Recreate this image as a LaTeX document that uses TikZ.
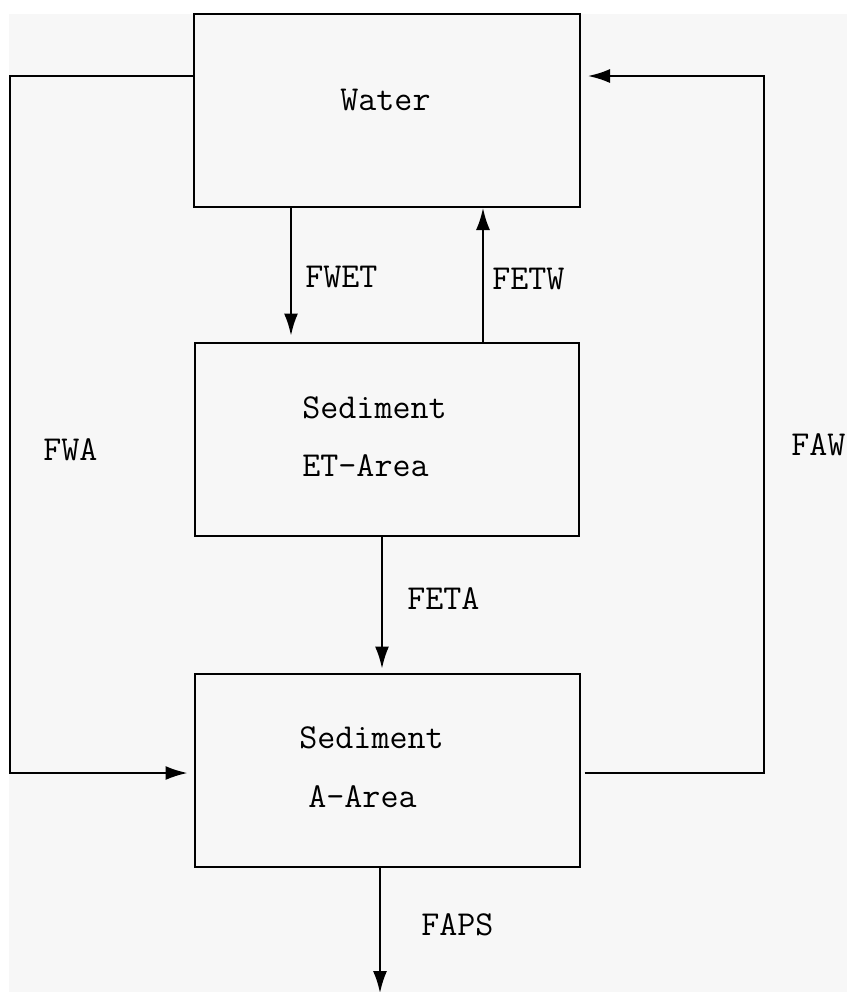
\documentclass[tikz,border=0pt]{standalone}
\usepackage{xcolor}
\usepackage{tikz}
\usetikzlibrary{positioning,calc,arrows.meta}

\definecolor{paper}{HTML}{F7F7F7}

\tikzset{
    compbox/.style={draw, line width=1pt, rectangle, inner sep=0pt, minimum height=96.5pt},
    flow/.style={line width=1pt, -{Latex[length=11pt,width=7pt]}},
    lbl/.style={font=\fontsize{17.5}{21}\selectfont\ttfamily, inner sep=0pt, anchor=base west},
}

\begin{document}
\begin{tikzpicture}[x=0.5pt,y=-0.5pt]
    \useasboundingbox (0,0) rectangle (847,992);
    \fill[white] (0,0) rectangle (847,992);
    \fill[paper] (9,14) rectangle (847,992);

    % compartments
    \node[compbox, minimum width=193pt] (water) at (387,110.5) {};
    \node[compbox, minimum width=192pt] (etarea) at (387,439) {};
    \node[compbox, minimum width=192.5pt] (aarea) at (387,770) {};

    \node[lbl] (watertxt) at (340,110) {Water};
    \node[lbl] (ettxta) at (302,418) {Sediment};
    \node[lbl] (ettxtb) at (302,476) {ET-Area};
    \node[lbl] (atxta) at (299,748) {Sediment};
    \node[lbl] (atxtb) at (308,807) {A-Area};

    % fluxes between compartments
    \draw[flow, shorten >=3pt] ([xshift=-48pt]water.south) -- ([xshift=-48pt]etarea.north);
    \draw[flow] ([xshift=48pt]etarea.north) -- ([xshift=48pt]water.south);
    \draw[flow, shorten >=2pt] ([xshift=-2.5pt]etarea.south) -- ([xshift=-2.5pt]aarea.north);
    \coordinate (sink) at (380,993);
    \draw[flow] ([xshift=-3.5pt]aarea.south) -- (sink);

    % loops round the side
    \draw[flow, shorten >=3pt] ([yshift=17.25pt]water.west) -| (10,773) -- ([yshift=-1.5pt]aarea.west);
    \draw[flow, shorten <=2pt, shorten >=3.5pt] ([yshift=-1.5pt]aarea.east) -| (764,76) -- ([yshift=17.25pt]water.east);

    \node[lbl] (fwet) at (305,287) {FWET};
    \node[lbl] (fetw) at (492,289) {FETW};
    \node[lbl] (feta) at (407,609) {FETA};
    \node[lbl] (faps) at (421,935) {FAPS};
    \node[lbl] (fwa) at (43,460) {FWA};
    \node[lbl] (faw) at (791,455) {FAW};
\end{tikzpicture}
\end{document}
